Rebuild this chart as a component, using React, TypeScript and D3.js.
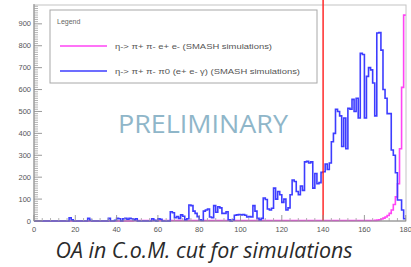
import React from 'react';
import * as d3 from 'd3';

// histogram bins: 1 degree wide, lower edges 0..179
const binEdges = d3.range(0, 180);

// η -> π+ π- π0 (e+ e- γ)
const blueCounts = [
  0, 0, 0, 0, 0, 0, 0, 0, 0, 0,
  0, 0, 0, 0, 0, 0, 0, 15, 5, 0,
  0, 0, 0, 0, 0, 0, 12, 3, 0, 0,
  0, 0, 0, 0, 0, 0, 12, 0, 0, 3,
  12, 10, 0, 10, 12, 8, 12, 10, 5, 10,
  0, 0, 0, 0, 0, 0, 0, 10, 3, 0,
  10, 8, 0, 0, 0, 0, 42, 38, 15, 20,
  12, 28, 22, 5, 10, 73, 70, 45, 35, 20,
  5, 2, 45, 50, 55, 18, 15, 70, 40, 65,
  60, 35, 35, 42, 5, 0, 5, 26, 28, 30,
  28, 30, 26, 18, 20, 18, 70, 45, 12, 5,
  12, 105, 98, 55, 50, 58, 150, 100, 135, 120,
  85, 100, 50, 60, 120, 187, 180, 135, 120, 160,
  140, 270, 272, 265, 270, 150, 217, 170, 175, 222,
  225, 260, 235, 265, 362, 400, 510, 500, 480, 340,
  470, 330, 515, 510, 555, 500, 560, 470, 766, 760,
  470, 660, 700, 690, 630, 480, 858, 860, 780, 600,
  560, 490, 490, 324, 300, 220, 96, 96, 50, 10,
];

// η -> π+ π- e+ e-
const pinkCounts = [
  0, 0, 0, 0, 0, 0, 0, 0, 0, 0,
  0, 0, 0, 0, 0, 0, 0, 0, 0, 0,
  0, 0, 0, 0, 0, 0, 0, 0, 0, 0,
  0, 0, 0, 0, 0, 0, 0, 0, 0, 0,
  0, 0, 0, 0, 0, 0, 0, 0, 2, 2,
  2, 2, 2, 2, 2, 2, 2, 2, 2, 2,
  2, 2, 2, 2, 2, 2, 2, 2, 2, 2,
  2, 2, 2, 2, 2, 2, 2, 2, 2, 2,
  2, 2, 2, 2, 2, 2, 2, 2, 2, 2,
  2, 2, 2, 2, 2, 2, 2, 2, 2, 2,
  2, 2, 2, 2, 2, 2, 2, 2, 2, 2,
  2, 2, 2, 2, 2, 2, 2, 2, 2, 2,
  2, 2, 2, 2, 2, 2, 2, 2, 2, 2,
  2, 2, 2, 2, 2, 2, 2, 2, 2, 2,
  2, 2, 2, 2, 2, 2, 2, 2, 2, 2,
  2, 2, 2, 2, 2, 2, 2, 2, 2, 2,
  2, 2, 2, 2, 2, 3, 4, 6, 9, 13,
  18, 25, 35, 50, 75, 110, 170, 330, 610, 940,
];

const xTicks = [0, 20, 40, 60, 80, 100, 120, 140, 160, 180];
const yTicks = [0, 100, 200, 300, 400, 500, 600, 700, 800, 900];
const legendLabels = [
  'η-> π+ π- e+ e- (SMASH simulations)',
  'η-> π+ π- π0 (e+ e- γ) (SMASH simulations)',
];
const legendWidths = [157, 185];
const seriesColors = ['#ff44f4', '#3d3dff'];
const cutValue = 140;
const title = 'OA in C.o.M. cut for simulations';

const App = () => {
  const width = 411, height = 267;
  const frame = { left: 34, right: 406, top: 5, bottom: 221 };

  const x = d3.scaleLinear().domain([0, 180]).range([frame.left, 405.7]);
  const y = d3.scaleLinear().domain([0, 986]).range([frame.bottom, frame.top]);

  const line = d3.line<[number, number]>()
    .x(d => x(d[0]))
    .y(d => y(d[1]))
    .curve(d3.curveStepAfter);

  const histPath = (counts: number[]) => {
    const pts: [number, number][] = binEdges.map(e => [e, counts[e]]);
    pts.push([180, counts[counts.length - 1]]);
    return line(pts) || '';
  };

  const yMinor = d3.range(0, 990, 10).filter(v => v % 100 !== 0);
  const xMinor = d3.range(0, 181, 4).filter(v => v % 20 !== 0);

  const tickFont = { fontFamily: 'Liberation Sans, Arial, sans-serif', fontSize: 7.5, fill: '#555' };

  return (
    <svg width={width} height={height} style={{ position: 'absolute', left: 0, top: 0, background: '#fff' }}>
      <defs>
        <filter id="soft" x="-5%" y="-5%" width="110%" height="110%">
          <feGaussianBlur stdDeviation="0.45" />
        </filter>
      </defs>

      {/* frame */}
      <rect x={frame.left} y={frame.top} width={frame.right - frame.left} height={frame.bottom - frame.top}
        fill="#fff" stroke="#c4c4c4" strokeWidth={1} />

      {/* legend */}
      <rect x={50} y={10} width={267} height={73} fill="#fff" stroke="#a8a8a8" strokeWidth={1} />
      <text x={57} y={24} style={{ ...tickFont, fontSize: 7, fill: '#666' }}>Legend</text>
      {legendLabels.map((label, i) => (
        <g key={label} transform={`translate(0, ${46 + i * 25})`}>
          <line x1={60} x2={107} stroke={seriesColors[i]} strokeWidth={1.6} />
          <text x={115} y={3} style={{ ...tickFont, fontSize: 8, fill: '#555' }}
            textLength={legendWidths[i]} lengthAdjust="spacingAndGlyphs">{label}</text>
        </g>
      ))}

      {/* watermark */}
      <text x={118} y={133} style={{ fontFamily: 'Open Sans, sans-serif', fontSize: 26, fill: '#8fb6c9' }}
        textLength={170} lengthAdjust="spacingAndGlyphs">PRELIMINARY</text>

      {/* histograms */}
      <g filter="url(#soft)">
        <path d={histPath(pinkCounts)} fill="none" stroke={seriesColors[0]} strokeWidth={1.6} />
        <path d={histPath(blueCounts)} fill="none" stroke={seriesColors[1]} strokeWidth={1.6} />
      </g>

      {/* cut */}
      <line x1={x(cutValue)} x2={x(cutValue)} y1={0} y2={frame.bottom} stroke="#ff2a2a" strokeWidth={1.5} />

      {/* y axis */}
      <line x1={frame.left} x2={frame.left} y1={frame.top - 1} y2={frame.bottom} stroke="#8a8a8a" />
      {yMinor.map(v => (
        <line key={v} x1={frame.left} x2={frame.left + 4} y1={y(v)} y2={y(v)} stroke="#a0a0a0" strokeWidth={0.8} />
      ))}
      {yTicks.map(v => (
        <g key={v}>
          <line x1={frame.left} x2={frame.left + 8} y1={y(v)} y2={y(v)} stroke="#909090" strokeWidth={0.9} />
          <text x={frame.left - 3} y={y(v)} dy="0.35em" textAnchor="end" style={tickFont}>{v}</text>
        </g>
      ))}

      {/* x axis */}
      <line x1={frame.left} x2={frame.right} y1={frame.bottom} y2={frame.bottom} stroke="#8a8a8a" />
      {xMinor.map(v => (
        <line key={v} x1={x(v)} x2={x(v)} y1={frame.bottom} y2={frame.bottom - 3} stroke="#a0a0a0" strokeWidth={0.8} />
      ))}
      {xTicks.map(v => (
        <g key={v}>
          <line x1={x(v)} x2={x(v)} y1={frame.bottom} y2={frame.bottom - 6} stroke="#909090" strokeWidth={0.9} />
          <text x={x(v)} y={229} dy="0.35em" textAnchor="middle" style={tickFont}>{v}</text>
        </g>
      ))}

      {/* title */}
      <text x={204} y={258} textAnchor="middle"
        style={{ fontFamily: 'Open Sans, sans-serif', fontStyle: 'italic', fontSize: 21, fill: '#2a2a2a' }}
        textLength={297} lengthAdjust="spacingAndGlyphs">{title}</text>
    </svg>
  );
};

export default App;
